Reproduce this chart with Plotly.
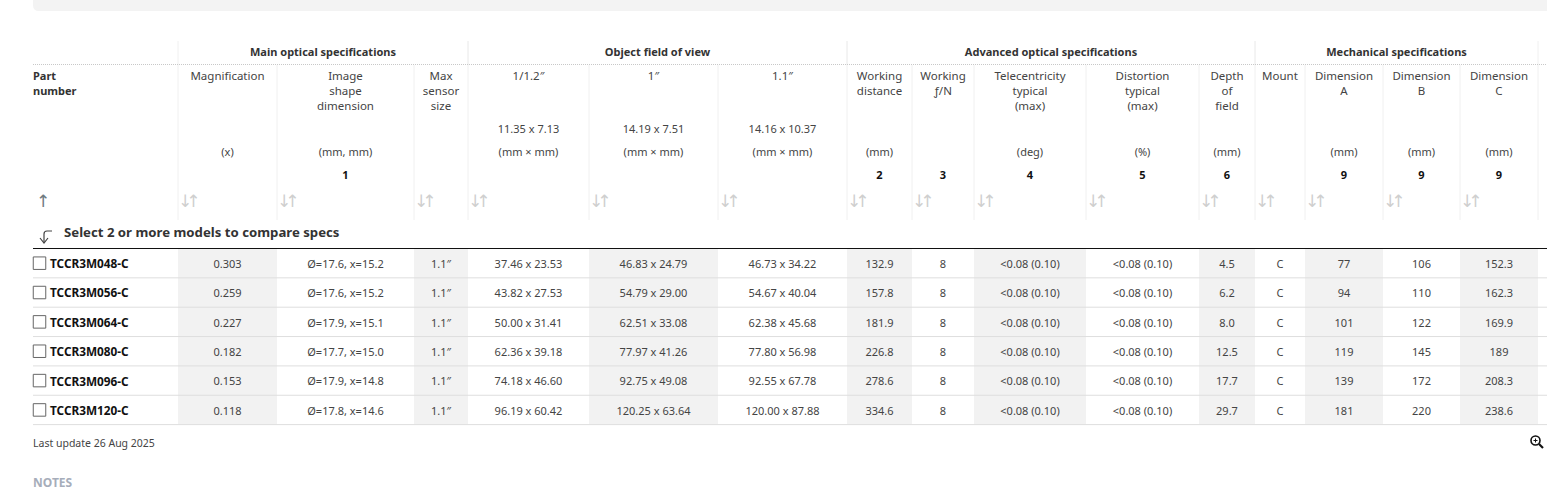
import plotly.graph_objects as go

# Table values
part_numbers = ["TCCR3M048-C", "TCCR3M056-C", "TCCR3M064-C", "TCCR3M080-C", "TCCR3M096-C", "TCCR3M120-C"]
magnification = ["0.303", "0.259", "0.227", "0.182", "0.153", "0.118"]
image_shape = ["Ø=17.6, x=15.2", "Ø=17.6, x=15.2", "Ø=17.9, x=15.1", "Ø=17.7, x=15.0", "Ø=17.9, x=14.8", "Ø=17.8, x=14.6"]
max_sensor = ["1.1″"] * 6
fov_1_2 = ["37.46 x 23.53", "43.82 x 27.53", "50.00 x 31.41", "62.36 x 39.18", "74.18 x 46.60", "96.19 x 60.42"]
fov_1_0 = ["46.83 x 24.79", "54.79 x 29.00", "62.51 x 33.08", "77.97 x 41.26", "92.75 x 49.08", "120.25 x 63.64"]
fov_1_1 = ["46.73 x 34.22", "54.67 x 40.04", "62.38 x 45.68", "77.80 x 56.98", "92.55 x 67.78", "120.00 x 87.88"]
working_distance = ["132.9", "157.8", "181.9", "226.8", "278.6", "334.6"]
working_fn = ["8"] * 6
telecentricity = ["<0.08 (0.10)"] * 6
distortion = ["<0.08 (0.10)"] * 6
depth_of_field = ["4.5", "6.2", "8.0", "12.5", "17.7", "29.7"]
mount = ["C"] * 6
dim_a = ["77", "94", "101", "119", "139", "181"]
dim_b = ["106", "110", "122", "145", "172", "220"]
dim_c = ["152.3", "162.3", "169.9", "189", "208.3", "238.6"]

columns = [magnification, image_shape, max_sensor, fov_1_2, fov_1_0, fov_1_1, working_distance, working_fn,
           telecentricity, distortion, depth_of_field, mount, dim_a, dim_b, dim_c]

# Header texts
group_names = ["Main optical specifications", "Object field of view",
               "Advanced optical specifications", "Mechanical specifications"]
group_spans = [(0, 3), (3, 6), (6, 11), (11, 15)]
header_names = ["Magnification", "Image<br>shape<br>dimension", "Max<br>sensor<br>size", "1/1.2″", "1″", "1.1″",
                "Working<br>distance", "Working<br>ƒ/N", "Telecentricity<br>typical<br>(max)",
                "Distortion<br>typical<br>(max)", "Depth<br>of<br>field", "Mount", "Dimension<br>A",
                "Dimension<br>B", "Dimension<br>C"]
sensor_sizes = ["", "", "", "11.35 x 7.13", "14.19 x 7.51", "14.16 x 10.37", "", "", "", "", "", "", "", "", ""]
units = ["(x)", "(mm, mm)", "", "(mm × mm)", "(mm × mm)", "(mm × mm)", "(mm)", "", "(deg)", "(%)", "(mm)", "",
         "(mm)", "(mm)", "(mm)"]
note_refs = ["", "1", "", "", "", "", "2", "3", "4", "5", "6", "", "9", "9", "9"]
sort_arrows = '<span style="letter-spacing:-6px">↓↑</span>'

# Page layout, in pixels
edges = [178, 277, 414, 468, 589, 718, 847, 912, 974, 1086, 1199, 1255, 1305, 1383, 1460, 1538]
left = 33
right = 1547
rows_top = 248.5
row_height = 29.35

FONT = "Noto Sans"
TEXT = "#444444"

centers = [(a + b) / 2 for a, b in zip(edges[:-1], edges[1:])]
widths = [b - a for a, b in zip(edges[:-1], edges[1:])]
row_y = [rows_top + row_height * (i + 0.5) for i in range(len(part_numbers))]
row_text_y = [y + 2 for y in row_y]
row_lines = [rows_top + row_height * (i + 1) for i in range(len(part_numbers))]


def add_text(fig, x, y, text, size=11, color=TEXT, bold=False, position="middle center", family=FONT):
    fig.add_trace(go.Scatter(
        x=x, y=y, text=text, mode="text", textposition=position,
        textfont=dict(family=family, size=size, color=color, weight=700 if bold else 400),
        hoverinfo="skip", showlegend=False, cliponaxis=False,
    ))


def add_rules(fig, xs, ys, color, width=1, dash="solid"):
    fig.add_trace(go.Scatter(
        x=xs, y=ys, mode="lines", line=dict(color=color, width=width, dash=dash),
        hoverinfo="skip", showlegend=False,
    ))


fig = go.Figure()

# Alternating shaded columns
fig.add_trace(go.Bar(
    x=centers[::2], width=widths[::2], y=[row_lines[-1] - rows_top] * len(centers[::2]), base=rows_top,
    marker=dict(color="#f2f2f2", line=dict(width=0)), hoverinfo="skip", showlegend=False,
))

# Grey band at the top of the page
fig.add_shape(type="path", path=f"M {left} 0 L {right} 0 L {right} 11 L {left + 6} 11 Q {left} 11 {left} 5 Z",
              fillcolor="#f3f3f3", line_width=0, layer="below")

# Vertical header rules
vx, vy = [], []
for e in edges:
    vx += [e, e, None]
    vy += [65, 220, None]
for start, end in group_spans:
    for e in (edges[start], edges[end]):
        vx += [e, e, None]
        vy += [41, 65, None]
add_rules(fig, vx, vy, "#f0f0f0")

# Horizontal rules
add_rules(fig, [left, right], [64.5, 64.5], "#c8c8c8", dash="1px,1px")
add_rules(fig, [left, right], [248.5, 248.5], "#111111")
hx, hy = [], []
for y in row_lines:
    hx += [left, right, None]
    hy += [y, y, None]
add_rules(fig, hx, hy, "#dedede")

# Group titles
add_text(fig, [(edges[a] + edges[b]) / 2 for a, b in group_spans], [53] * 4, group_names,
         size=11, color="#333333", bold=True)

# Column headers
add_text(fig, [left, left], [77, 92], ["Part", "number"], size=11, color="#333333", bold=True,
         position="middle right")
add_text(fig, centers, [71] * 15, header_names, size=11.5, position="bottom center")
add_text(fig, centers, [130] * 15, sensor_sizes)
add_text(fig, centers, [153] * 15, units)
add_text(fig, centers, [176] * 15, note_refs, color="#111111", bold=True)

# Sort arrows
add_text(fig, [e for e in edges[:-1]], [203] * 15, [sort_arrows] * 15, size=17, color="#cfcfcf",
         position="middle right", family="DejaVu Sans")
add_text(fig, [43], [203], ["↑"], size=17, color="#6f7a80", family="DejaVu Sans")

# Compare prompt
add_text(fig, [64], [234], ["Select 2 or more models to compare specs"], size=13.2, color="#333333", bold=True,
         position="middle right")
fig.add_shape(type="path", path="M 52 231 L 47 231 Q 44 231 44 234 L 44 243", line=dict(color="#444444", width=1.2))
fig.add_shape(type="path", path="M 40 238 L 44 243 L 48 238", line=dict(color="#444444", width=1.2))

# Row checkboxes and part numbers
fig.add_trace(go.Scatter(
    x=[39.5] * 6, y=row_y, mode="markers",
    marker=dict(symbol="square-open", size=12.5, color="#666666", line=dict(width=1)),
    hoverinfo="skip", showlegend=False,
))
add_text(fig, [50] * 6, row_text_y, part_numbers, size=11.8, color="#111111", bold=True, position="middle right")

# Cell values
for cx, values in zip(centers, columns):
    add_text(fig, [cx] * 6, row_text_y, values)

# Footer
add_text(fig, [left], [444], ["Last update 26 Aug 2025"], size=10.5, position="middle right")
add_text(fig, [left], [484], ["NOTES"], size=12, color="#a6adba", bold=True, position="middle right")

# Magnifier icon
fig.add_shape(type="circle", x0=1531, x1=1540, y0=436, y1=445, line=dict(color="#111111", width=1.6))
fig.add_shape(type="line", x0=1539, x1=1543, y0=444, y1=448, line=dict(color="#111111", width=2.2))
fig.add_shape(type="line", x0=1533.5, x1=1537.5, y0=440.5, y1=440.5, line=dict(color="#111111", width=1))
fig.add_shape(type="line", x0=1535.5, x1=1535.5, y0=438.5, y1=442.5, line=dict(color="#111111", width=1))

fig.update_layout(
    width=1547, height=490, margin=dict(l=0, r=0, t=0, b=0),
    paper_bgcolor="white", plot_bgcolor="white", showlegend=False,
    xaxis=dict(range=[0, 1547], visible=False, fixedrange=True),
    yaxis=dict(range=[490, 0], visible=False, fixedrange=True),
)

fig.write_html("out.html", config=dict(displayModeBar=False), post_script="document.body.style.margin = '0';")
